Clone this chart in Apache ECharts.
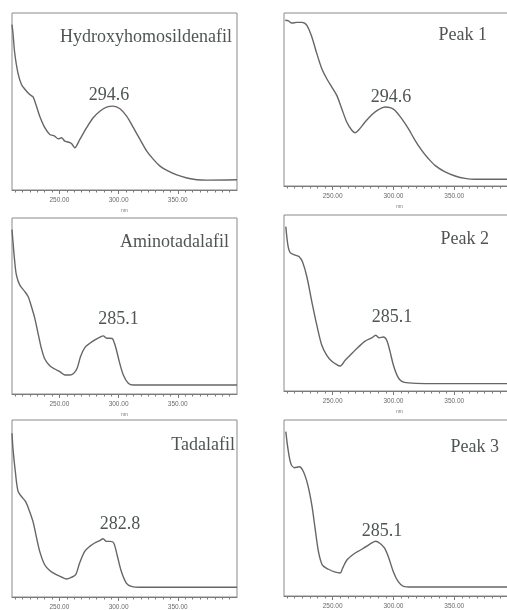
<!DOCTYPE html>
<html><head><meta charset="utf-8">
<script src="https://cdn.jsdelivr.net/npm/echarts@6/dist/echarts.min.js"></script>
<style>html,body{margin:0;padding:0;background:#fff}#c{width:507px;height:610px}</style>
</head><body><div id="c"></div>
<script>
// Panel titles and peak wavelength labels
const panelNames = ["Hydroxyhomosildenafil", "Peak 1", "Aminotadalafil", "Peak 2", "Tadalafil", "Peak 3"];
const peakLabels = ["294.6", "294.6", "285.1", "285.1", "282.8", "285.1"];
const xLabelValues = [250, 300, 350];

// Spectra: wavelength (nm) and relative absorbance (0..1 of panel height)
const p1x = [210,210.8,212.3,215,218,220.7,225,227.8,230.6,233.4,237.7,241.9,246,249,251.8,254.6,257.4,260.2,263,267.3,273,278.6,284.2,289.9,295.5,301.2,306.8,312.5,318.1,323.8,329.4,335,340.8,349.2,357.7,366.1,374.6,400];
const p1y = [0.934,0.887,0.774,0.662,0.596,0.571,0.539,0.526,0.474,0.417,0.352,0.314,0.305,0.289,0.295,0.276,0.271,0.263,0.239,0.286,0.352,0.408,0.445,0.468,0.474,0.459,0.417,0.352,0.286,0.220,0.173,0.135,0.111,0.085,0.068,0.058,0.056,0.058];

const p2x = [211,213.7,216.4,220.5,224.7,228.8,232.9,237,241.1,245.2,249.3,253.4,257.5,261.6,265.8,268.5,271.2,276.7,282.2,287.7,293.2,297.3,301.4,306.8,312.3,317.8,323.3,328.8,334.2,342.5,350.7,358.9,367.1,400];
const p2y = [0.958,0.954,0.942,0.946,0.946,0.929,0.861,0.765,0.678,0.620,0.572,0.524,0.447,0.370,0.322,0.308,0.322,0.370,0.412,0.441,0.457,0.453,0.437,0.389,0.331,0.264,0.206,0.158,0.119,0.081,0.058,0.044,0.039,0.039];

const p3x = [210,210.8,212.3,213.7,216.5,220.7,223.6,226.4,229.2,232,234.8,237.7,241.9,246.1,250.4,254.6,258.8,262.2,265,267.9,271.5,275.8,280,284.2,287.1,289.9,292.7,295,297.8,300.6,304,308.2,312.5,326.6,400];
const p3y = [0.934,0.867,0.753,0.677,0.620,0.583,0.554,0.497,0.431,0.345,0.260,0.199,0.161,0.142,0.127,0.108,0.108,0.118,0.146,0.213,0.264,0.288,0.307,0.323,0.330,0.317,0.317,0.313,0.260,0.184,0.108,0.061,0.051,0.051,0.051];

const p4x = [211.5,213.2,215.1,219.2,222.5,225.2,228.8,232.9,237,241.1,245.2,249.3,253.4,256.2,260.3,265.8,271.2,276.7,282.2,285.5,288.2,291.8,294.5,297.3,300,303.6,306.8,312.3,326,400];
const p4y = [0.934,0.829,0.786,0.772,0.763,0.734,0.649,0.507,0.374,0.260,0.203,0.169,0.150,0.142,0.175,0.213,0.250,0.283,0.302,0.317,0.302,0.307,0.288,0.222,0.146,0.080,0.055,0.046,0.042,0.042];

const p5x = [210,210.8,212.8,215,217.9,221.5,224.4,227.7,230.5,233.4,237.6,241.8,247.4,251.7,255.9,260.1,263.8,267.1,271.4,275.6,279.8,284,286.9,289.7,293,295.9,298.7,302.3,306.5,310.8,317.8,400];
const p5y = [0.925,0.840,0.709,0.600,0.568,0.539,0.492,0.427,0.342,0.258,0.182,0.150,0.126,0.113,0.102,0.111,0.126,0.192,0.258,0.286,0.305,0.318,0.329,0.314,0.314,0.305,0.239,0.145,0.079,0.060,0.055,0.055];

const p6x = [211.5,213.2,215.6,218.6,222.5,226,229.6,232.9,235.6,238.4,241.6,246.6,251.5,256.2,258.1,261.6,267.1,272.6,278.1,282.2,285.5,289,292.6,295.9,300,304.1,308.2,315.1,400];
const p6y = [0.934,0.839,0.753,0.729,0.734,0.706,0.630,0.516,0.383,0.250,0.175,0.152,0.137,0.131,0.156,0.203,0.237,0.260,0.283,0.302,0.311,0.298,0.273,0.222,0.137,0.080,0.055,0.051,0.051];

const spectraX = [p1x, p2x, p3x, p4x, p5x, p6x];
const spectraY = [p1y, p2y, p3y, p4y, p5y, p6y];

// Layout (pixels)
const grids = [
  {left:12, top:13, width:225, height:177},
  {left:284, top:13, width:231, height:173},
  {left:12, top:218, width:225, height:176},
  {left:284, top:215, width:231, height:176},
  {left:12, top:420, width:225, height:177},
  {left:284, top:420, width:231, height:176}
];
const namePos = [[232,37],[487,35],[229,242],[489,239],[235,445],[499,447]];
const peakPos = [[109,95.5],[391,97.5],[118.5,319],[392,317],[120,524],[382,531]];

const minorTicks = [];
for (let v = 212.5; v < 400; v += 6.25) minorTicks.push(v);

const xAxes = [], yAxes = [], series = [], graphics = [];
grids.forEach((g, i) => {
  xAxes.push({
    type:'value', gridIndex:i, min:210, max:400,
    axisLine:{show:true, lineStyle:{color:'#7a7a7a', width:1}},
    splitLine:{show:false},
    axisTick:{show:true, customValues:minorTicks, length:2.5, lineStyle:{color:'#7a7a7a'}},
    axisLabel:{show:true, customValues:xLabelValues, formatter:v=>v.toFixed(2), fontSize:6.5, color:'#6a6a6a', margin:7, fontFamily:'Liberation Sans', hideOverlap:false},
    name:'nm', nameLocation:'middle', nameGap:18, nameTextStyle:{fontSize:5, color:'#7a7a7a'}
  });
  xAxes.push({
    type:'value', gridIndex:i, min:210, max:400, position:'bottom',
    axisLine:{show:false}, splitLine:{show:false},
    axisTick:{show:true, customValues:xLabelValues, length:4, lineStyle:{color:'#7a7a7a'}},
    axisLabel:{show:false}
  });
  yAxes.push({type:'value', gridIndex:i, min:0, max:1, show:false});
  series.push({
    type:'line', xAxisIndex:2*i, yAxisIndex:i, showSymbol:false, smooth:0.3,
    lineStyle:{color:'#666', width:1.4},
    data: spectraX[i].map((x, k) => [x, spectraY[i][k]])
  });
  graphics.push({type:'text', x:namePos[i][0], y:namePos[i][1],
    style:{text:panelNames[i], font:'18px "Liberation Serif"', fill:'#4f5555', textAlign:'right', textVerticalAlign:'middle'}});
  graphics.push({type:'text', x:peakPos[i][0], y:peakPos[i][1],
    style:{text:peakLabels[i], font:'18px "Liberation Serif"', fill:'#4f5555', textAlign:'center', textVerticalAlign:'middle'}});
});

const chart = echarts.init(document.getElementById('c'), null, {renderer:'canvas'});
chart.setOption({
  backgroundColor:'#fff',
  animation:false,
  grid: grids.map(g => Object.assign({show:true, borderColor:'#8a8a8a', borderWidth:1, backgroundColor:'transparent', containLabel:false, outerBoundsMode:'none'}, g)),
  xAxis: xAxes, yAxis: yAxes, series: series, graphic: graphics
});
</script></body></html>
